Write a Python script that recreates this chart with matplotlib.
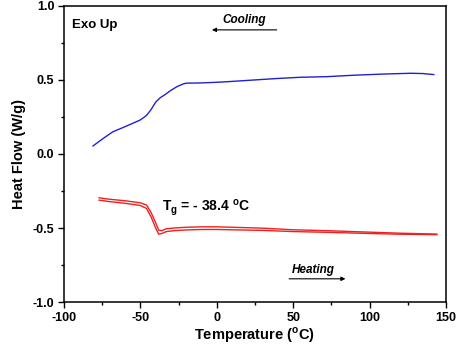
import numpy as np
import matplotlib
matplotlib.use("Agg")
import matplotlib.pyplot as plt

plt.rcParams['font.family'] = ['Liberation Sans', 'DejaVu Sans']
plt.rcParams['font.weight'] = 'bold'
plt.rcParams['axes.unicode_minus'] = False
plt.rcParams['mathtext.fontset'] = 'custom'
plt.rcParams['mathtext.bf'] = 'Liberation Sans:bold'
plt.rcParams['mathtext.rm'] = 'Liberation Sans:bold'

# cooling curve (blue)
cool_t = [-81, -75, -68, -61, -55, -50, -46, -43, -40, -37, -34, -30, -26, -22, -20,
          -10, 0, 10, 25, 40, 55, 72, 90, 110, 127, 135, 142]
cool_hf = [0.054, 0.10, 0.15, 0.18, 0.207, 0.23, 0.26, 0.30, 0.35, 0.38, 0.40, 0.43,
           0.455, 0.473, 0.478, 0.480, 0.484, 0.49, 0.50, 0.51, 0.518, 0.522, 0.532,
           0.54, 0.545, 0.543, 0.536]

# heating curves (red, two runs)
heat_t = [-77, -70, -60, -50, -46, -43, -40, -38, -36, -33, -28, -20, -10, 0, 10,
          30, 50, 72, 100, 120, 144]
heat_hf1 = [-0.296, -0.306, -0.316, -0.330, -0.345, -0.395, -0.465, -0.515, -0.518,
            -0.505, -0.500, -0.495, -0.492, -0.492, -0.495, -0.501, -0.512, -0.518,
            -0.528, -0.535, -0.541]
heat_hf2 = [-0.312, -0.322, -0.333, -0.348, -0.368, -0.425, -0.500, -0.542, -0.537,
            -0.524, -0.518, -0.513, -0.510, -0.510, -0.512, -0.516, -0.524, -0.529,
            -0.537, -0.542, -0.545]

fig = plt.figure(figsize=(4.57, 3.46), dpi=100)
ax = fig.add_axes([0.140, 0.127, 0.836, 0.856])

ax.plot(cool_t, cool_hf, color='#2020d0', lw=1.0)
ax.plot(heat_t, heat_hf1, color='#ee2020', lw=1.0)
ax.plot(heat_t, heat_hf2, color='#ee2020', lw=1.0)

ax.set_xlim(-100, 150)
ax.set_ylim(-1.0, 1.0)
ax.set_xticks([-100, -50, 0, 50, 100, 150])
ax.set_xticks([-75, -25, 25, 75, 125], minor=True)
ax.set_yticks([-1.0, -0.5, 0.0, 0.5, 1.0])
ax.set_yticks([-0.75, -0.25, 0.25, 0.75], minor=True)
ax.set_yticklabels(['-1.0', '-0.5', '0.0', '0.5', '1.0'])
ax.tick_params(which='major', direction='out', length=4, width=1, labelsize=9, pad=3)
ax.tick_params(which='minor', direction='out', length=2.5, width=1)
for lab in ax.get_xticklabels() + ax.get_yticklabels():
    lab.set_fontweight('bold')
for s in ax.spines.values():
    s.set_linewidth(1.1)

ax.set_xlabel('Temperature ($^{\\mathbf{o}}$C)', fontsize=10.5, fontweight='bold', labelpad=1)
ax.set_ylabel('Heat Flow (W/g)', fontsize=10.5, fontweight='bold', labelpad=5)

ax.text(-94.5, 0.87, 'Exo Up', fontsize=9.5, fontweight='bold', va='center')
ax.text(18, 0.905, 'Cooling', fontsize=8.5, fontweight='bold', style='italic', ha='center', va='center')
ax.annotate('', xy=(-5, 0.838), xytext=(41, 0.838),
            arrowprops=dict(arrowstyle='-|>', color='black', lw=0.8, mutation_scale=6))
ax.text(63, -0.784, 'Heating', fontsize=8.5, fontweight='bold', style='italic', ha='center', va='center')
ax.annotate('', xy=(86, -0.843), xytext=(45.5, -0.843),
            arrowprops=dict(arrowstyle='-|>', color='black', lw=0.8, mutation_scale=6))
ax.text(-36, -0.363, 'T$_\\mathbf{g}$ = - 38.4 $^{\\mathbf{o}}$C', fontsize=10,
        fontweight='bold', va='center')

fig.savefig('out.png', dpi=100)
